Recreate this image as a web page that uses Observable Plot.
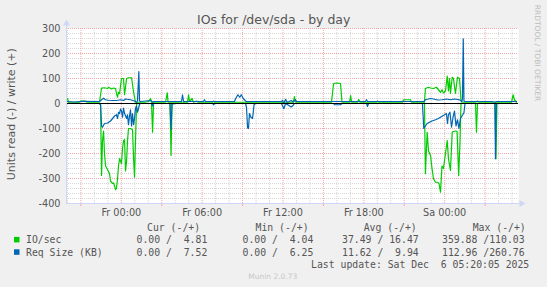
<!DOCTYPE html>
<html><head><meta charset="utf-8">
<script src="https://cdn.jsdelivr.net/npm/d3@7"></script>
<script src="https://cdn.jsdelivr.net/npm/@observablehq/plot@0.6"></script>
<style>
html,body{margin:0;padding:0;background:#f0f0f0;}
#chart{width:547px;height:287px;overflow:hidden;}
svg{display:block;}
</style></head><body><div id="chart"></div>
<script>
// ---- texts ----
const title = "IOs for /dev/sda - by day";
const yLabel = "Units read (-) / write (+)";
const watermark = "RRDTOOL / TOBI OETIKER";
const footer = "Munin 2.0.73";
const lastUpdate = "Last update: Sat Dec  6 05:20:05 2025";
const seriesNames = ["IO/sec", "Req Size (KB)"];
const seriesColors = ["#00cc00", "#0066b3"];
const statHeaders = ["Cur (-/+)", "Min (-/+)", "Avg (-/+)", "Max (-/+)"];
const ioStats = ["0.00 /  4.81", "0.00 /  4.04", "37.49 / 16.47", "359.88 /110.03"];
const reqStats = ["0.00 /  7.52", "0.00 /  6.25", "11.62 /  9.94", "112.96 /260.76"];

// ---- axes ----
const yTicks = [-400, -300, -200, -100, 0, 100, 200, 300];
const xTicks = [0, 6, 12, 18, 24];           // hours since Fr 00:00
const xDomain = [-4.07, 29.48];              // Thu ~19:56 .. Sat ~05:29

// ---- data: [hours since Fr 00:00, value] ----
const ioWrite = [[-3.99,20],[-3.92,5],[-3.10,5],[-3.03,10],[-2.66,10],[-2.55,5],[-1.62,5],[-1.47,62],[-1.25,63],[-1.02,60],[-0.95,65],[-0.73,58],[-0.58,62],[-0.43,60],[-0.36,40],[-0.28,25],[-0.21,45],[-0.13,40],[0.01,100],[0.16,100],[0.24,35],[0.39,100],[0.53,103],[0.76,103],[0.91,45],[1.05,5],[1.80,5],[2.02,8],[2.17,20],[2.24,5],[3.28,5],[3.41,43],[3.47,5],[4.91,5],[4.99,35],[5.06,8],[5.25,20],[5.36,5],[5.6,10],[5.7,5],[6.77,5],[6.84,10],[6.92,5],[12.76,5],[12.85,28],[12.93,5],[15.60,5],[15.75,78],[15.82,81],[16.05,82],[16.27,80],[16.38,5],[16.94,5],[17.02,32],[17.09,5],[17.53,5],[17.62,16],[17.71,5],[18.94,5],[19.01,10],[19.09,5],[20.87,5],[20.94,15],[21.46,15],[21.54,5],[22.50,5],[22.57,60],[22.80,65],[22.95,62],[23.17,60],[23.39,65],[23.54,55],[23.69,45],[23.80,55],[23.91,42],[24.06,50],[24.19,110],[24.28,50],[24.36,100],[24.43,40],[24.56,105],[24.65,100],[24.80,40],[24.95,105],[25.10,100],[25.21,15],[25.28,5],[26.29,5],[26.44,10],[26.52,5],[28.96,5],[29.08,35],[29.18,15],[29.33,5]];
const ioRead = [[-3.99,0],[-1.62,0],[-1.54,-5],[-1.47,-288],[-1.40,-150],[-1.32,-110],[-1.25,-200],[-1.17,-250],[-1.02,-265],[-0.88,-280],[-0.80,-310],[-0.65,-320],[-0.58,-318],[-0.50,-330],[-0.43,-345],[-0.36,-340],[-0.28,-300],[-0.21,-250],[-0.13,-220],[-0.06,-230],[0.01,-240],[0.09,-180],[0.16,-150],[0.24,-145],[0.31,-270],[0.39,-230],[0.46,-150],[0.53,-100],[0.68,-100],[0.83,-105],[0.91,-220],[0.98,-295],[1.05,-150],[1.13,-5],[1.20,0],[2.24,0],[2.32,-115],[2.39,0],[3.61,0],[3.69,-208],[3.76,0],[22.50,0],[22.57,-281],[22.70,-115],[22.80,-190],[22.95,-208],[23.06,-260],[23.17,-301],[23.32,-315],[23.47,-315],[23.58,-320],[23.69,-355],[23.80,-250],[23.91,-260],[24.06,-200],[24.19,-148],[24.28,-220],[24.43,-268],[24.56,-115],[24.65,-112],[24.80,-110],[24.92,-112],[25.04,-288],[25.14,-150],[25.21,0],[26.29,0],[26.36,-115],[26.44,0],[27.73,0],[27.81,-221],[27.88,0],[29.33,0]];
const reqWrite = [[-3.99,8],[-3.5,6],[-2.8,9],[-1.62,8],[-1.47,15],[-1.32,21],[-1.17,15],[-0.95,13],[-0.65,12],[-0.36,12],[-0.06,15],[0.16,12],[0.31,18],[0.68,15],[0.98,10],[1.13,5],[1.20,10],[1.30,128],[1.35,10],[1.42,8],[2.17,12],[2.32,5],[2.39,8],[4.47,8],[4.54,35],[4.62,8],[6.10,8],[6.17,15],[6.25,8],[8.40,8],[8.47,18],[8.65,35],[8.79,25],[8.90,35],[9.05,20],[9.22,10],[9.29,8],[11.89,8],[11.96,13],[12.06,0],[12.19,17],[12.30,5],[12.45,8],[12.61,12],[12.76,6],[12.93,15],[13.00,8],[18.12,8],[18.20,15],[18.27,8],[22.45,8],[22.57,15],[22.95,20],[23.17,18],[23.47,14],[23.80,15],[24.13,18],[24.43,15],[24.73,18],[25.10,15],[25.28,8],[25.32,20],[25.38,259],[25.43,10],[25.51,8],[27.5,8],[27.73,5],[27.84,8],[29.33,8]];
const reqRead = [[-3.99,0],[-1.62,0],[-1.54,-5],[-1.47,-90],[-1.40,-95],[-1.25,-80],[-1.02,-78],[-0.80,-70],[-0.65,-60],[-0.50,-50],[-0.36,-45],[-0.28,-60],[-0.21,-35],[-0.13,-40],[-0.06,-22],[0.01,-30],[0.09,-55],[0.16,-18],[0.24,-40],[0.39,-60],[0.46,-45],[0.53,-85],[0.61,-50],[0.68,-25],[0.76,-90],[0.83,-40],[0.91,-85],[0.98,-60],[1.05,-20],[1.13,-10],[1.20,-35],[1.28,-20],[1.35,-3],[1.42,0],[2.24,0],[2.32,-10],[2.39,0],[3.61,0],[3.69,-105],[3.76,-3],[4.02,0],[6.77,0],[6.84,-5],[6.92,0],[9.22,0],[9.29,-15],[9.37,-98],[9.44,-100],[9.51,-40],[9.62,-55],[9.74,-60],[9.85,-5],[9.95,0],[11.89,0],[12.06,-21],[12.19,0],[12.61,-14],[12.76,-7],[12.85,0],[15.75,0],[15.82,-5],[16.27,-5],[16.38,0],[18.20,0],[18.27,-12],[18.35,0],[22.35,0],[22.45,-100],[22.57,-90],[22.70,-80],[22.87,-75],[23.06,-70],[23.32,-65],[23.54,-60],[23.69,-55],[23.84,-50],[23.99,-45],[24.13,-40],[24.21,-80],[24.28,-45],[24.39,-35],[24.51,-95],[24.62,-55],[24.73,-30],[24.84,-90],[24.95,-65],[25.06,-100],[25.17,-60],[25.28,-50],[25.43,-37],[25.51,0],[27.73,0],[27.77,-221],[27.84,0],[29.33,0]];

// ---- styling ----
const axisColor = "#CFD6F8";
const minorGrid = "#d6d6d6";
const majorGrid = "#f2a8a8";
const textColor = "#555";
const lineWidth = 1.2;

const hoursAll = d3.range(-4, 30);
const hourMinor = hoursAll.filter(h => Math.abs(h % 3) !== 0);
const hourMajor = hoursAll.filter(h => Math.abs(h % 3) === 0);
const hourMajorTicks = hourMajor.filter(h => Math.abs(h % 6) !== 0);
const yMinor = d3.range(-400, 301, 20).filter(v => v % 100 !== 0);

const fmtX = h => (h < 24 ? "Fr " : "Sa ") + String(h % 24).padStart(2, "0") + ":00";
const acc = {x: d => d[0], y: d => d[1]};

const plot = Plot.plot({
  width: 547, height: 287,
  marginLeft: 66, marginRight: 29, marginTop: 28, marginBottom: 84,
  style: {background: "transparent", fontFamily: "DejaVu Sans", fontSize: "9.7px", color: textColor},
  x: {domain: xDomain},
  y: {domain: [-400, 300]},
  marks: [
    Plot.frame({fill: "#fff", stroke: null}),
    Plot.ruleX(hourMinor, {stroke: minorGrid, strokeDasharray: "1,1"}),
    Plot.ruleY(yMinor, {stroke: minorGrid, strokeDasharray: "1,1"}),
    Plot.ruleX(hourMajor, {stroke: majorGrid, strokeDasharray: "1,1"}),
    Plot.ruleY(yTicks, {stroke: majorGrid, strokeDasharray: "1,1"}),
    Plot.ruleX(hourMajorTicks, {y1: -400, y2: -412, stroke: majorGrid}),
    Plot.line(ioWrite, {...acc, stroke: seriesColors[0], strokeWidth: lineWidth}),
    Plot.line(ioRead, {...acc, stroke: seriesColors[0], strokeWidth: lineWidth}),
    Plot.line(reqWrite, {...acc, stroke: seriesColors[1], strokeWidth: lineWidth}),
    Plot.line(reqRead, {...acc, stroke: seriesColors[1], strokeWidth: lineWidth}),
    Plot.ruleY([0], {stroke: "#000", strokeWidth: 1}),
    Plot.ruleX([xDomain[0]], {y1: -400, y2: 312, stroke: axisColor}),
    Plot.ruleY([-400], {x1: xDomain[0], x2: xDomain[1] + 0.1, stroke: axisColor}),
    Plot.dot([0], {x: xDomain[0], y: 300, dy: -5, symbol: "triangle", r: 2.6, fill: axisColor, stroke: null}),
    Plot.dot([0], {x: xDomain[1], y: -400, dx: 3, rotate: 90, symbol: "triangle", r: 2.6, fill: axisColor, stroke: null}),
    Plot.axisX({ticks: xTicks, tickFormat: fmtX, tickSize: 0, tickPadding: 6, label: null}),
    Plot.axisY({ticks: yTicks, tickFormat: d => String(d), tickSize: 0, tickPadding: 6, label: null})
  ]
});
document.getElementById("chart").appendChild(plot);

// ---- surrounding texts (title, labels, legend) ----
const svg = d3.select(plot);
function addText(x, y, s, o = {}) {
  const t = svg.append("text")
    .attr("x", x).attr("y", y)
    .attr("xml:space", "preserve")
    .style("white-space", "pre")
    .attr("fill", o.fill || textColor)
    .attr("font-family", o.family || "DejaVu Sans")
    .attr("font-size", o.size || 9.7)
    .attr("text-anchor", o.anchor || "start")
    .text(s);
  if (o.transform) t.attr("transform", o.transform).attr("x", 0).attr("y", 0);
  return t;
}
addText(273.7, 24, title, {size: 12.5, anchor: "middle"});
addText(0, 0, yLabel, {size: 11, anchor: "middle", transform: "translate(14.5,114.2) rotate(-90)"});
addText(0, 0, watermark, {size: 7.5, anchor: "middle", fill: "#bdbdbd", transform: "translate(534.5,53) rotate(90)"});
addText(272.8, 278.8, footer, {size: 7.5, anchor: "middle", fill: "#c8c8c8"});

const mono = "DejaVu Sans Mono";
const headX = [147, 255.5, 363.7, 472.7];
const valX = [136.5, 242.5, 342, 442];
statHeaders.forEach((s, i) => addText(headX[i], 231, s, {family: mono, size: 9.8}));
[ioStats, reqStats].forEach((row, r) => {
  const y = 243.2 + r * 12.4;
  svg.append("rect").attr("x", 14).attr("y", y - 6.3).attr("width", 5.5).attr("height", 5.5).attr("fill", seriesColors[r]);
  addText(26, y, seriesNames[r], {family: mono, size: 9.8});
  row.forEach((s, i) => addText(valX[i], y, s, {family: mono, size: 9.8}));
});
addText(311, 267.8, lastUpdate, {family: mono, size: 9.8});
</script></body></html>
